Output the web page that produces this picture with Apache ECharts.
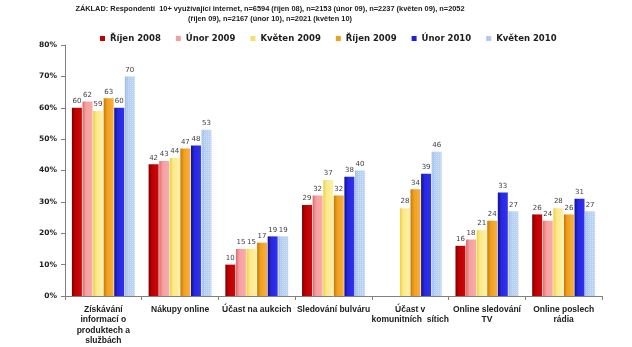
<!DOCTYPE html>
<html>
<head>
<meta charset="utf-8">
<script src="https://cdn.jsdelivr.net/npm/echarts@6/dist/echarts.min.js"></script>
<style>
  html, body { margin: 0; padding: 0; background: #fff; }
  #chart { width: 632px; height: 347px; }
</style>
</head>
<body>
<div id="chart"></div>
<script>
// Survey activity categories
const categories = [
  'Získávání\ninformací o\nproduktech a\nslužbách',
  'Nákupy online',
  'Účast na aukcich',
  'Sledování bulváru',
  'Účast v\nkomunitních  sítich',
  'Online sledování\nTV',
  'Online poslech\nrádia'
];

// Wave names
const waves = ['Říjen 2008', 'Únor 2009', 'Květen 2009', 'Říjen 2009', 'Únor 2010', 'Květen 2010'];

// Share of respondents per wave (%), '-' where not surveyed
const rijen2008  = [60, 42, 10, 29, '-', 16, 26];
const unor2009   = [62, 43, 15, 32, '-', 18, 24];
const kveten2009 = [59, 44, 15, 37, 28, 21, 28];
const rijen2009  = [63, 47, 17, 32, 34, 24, 26];
const unor2010   = [60, 48, 19, 38, 39, 33, 31];
const kveten2010 = [70, 53, 19, 40, 46, 27, 27];

const seriesValues = [rijen2008, unor2009, kveten2009, rijen2009, unor2010, kveten2010];

const yTicks = [0, 10, 20, 30, 40, 50, 60, 70, 80];

const titleText = 'ZÁKLAD: Respondenti  10+ využívající internet, n=6594 (říjen 08), n=2153 (únor 09), n=2237 (květen 09), n=2052\n(říjen 09), n=2167 (únor 10), n=2021 (květen 10)';

// Horizontal shading for each wave: darker left edge, lighter body
const palette = [
  ['#7a0000', '#c00000', '#c80a0a'],
  ['#e06a6a', '#f6a0a0', '#f8aaaa'],
  ['#f0d040', '#fbe98a', '#fff0a8'],
  ['#c87800', '#f0a020', '#f6b040'],
  ['#10108a', '#2828e0', '#3030f0'],
  ['#9cbce6', '#b4cef2', '#bcd4f4']
];
const legendColors = ['#c00000', '#f4a0a0', '#f8e070', '#f0a020', '#2020e0', '#a8c4ec'];

function shade(c) {
  return new echarts.graphic.LinearGradient(0, 0, 1, 0, [
    { offset: 0, color: c[0] },
    { offset: 0.35, color: c[1] },
    { offset: 1, color: c[2] }
  ]);
}

const series = waves.map((name, i) => {
  const itemStyle = { color: shade(palette[i]) };
  if (i === 5) {
    // fine dotted texture on the last wave
    itemStyle.decal = {
      symbol: 'rect',
      symbolSize: 1,
      dashArrayX: [1, 1],
      dashArrayY: [1, 1],
      color: 'rgba(255,255,255,0.35)'
    };
  }
  return {
    name: name,
    type: 'bar',
    data: seriesValues[i],
    barGap: '6%',
    barCategoryGap: '18%',
    itemStyle: itemStyle,
    label: {
      show: true,
      position: 'top',
      distance: 3,
      fontFamily: 'DejaVu Sans',
      fontSize: 7,
      color: '#404040'
    }
  };
});

const chart = echarts.init(document.getElementById('chart'), null, { renderer: 'canvas' });
chart.setOption({
  animation: false,
  backgroundColor: '#ffffff',
  color: legendColors,
  title: {
    text: titleText,
    left: 270,
    textAlign: 'center',
    top: 4,
    padding: 0,
    textStyle: {
      fontFamily: 'Liberation Sans',
      fontSize: 7.4,
      fontWeight: 'bold',
      color: '#202020',
      lineHeight: 10
    }
  },
  legend: {
    data: waves.map((w, i) => ({ name: w, itemStyle: { color: legendColors[i], decal: null } })),
    left: 100,
    top: 34,
    padding: 0,
    icon: 'rect',
    itemWidth: 5,
    itemHeight: 5,
    itemGap: 15,
    textStyle: {
      fontFamily: 'DejaVu Sans',
      fontSize: 8.5,
      fontWeight: 'bold',
      color: '#202020'
    }
  },
  grid: { left: 65, right: 30, top: 45, bottom: 51 },
  xAxis: {
    type: 'category',
    data: categories,
    axisLine: { lineStyle: { color: '#808080' } },
    axisTick: { show: true, length: 4, lineStyle: { color: '#808080' } },
    axisLabel: {
      interval: 0,
      margin: 8,
      fontFamily: 'Liberation Sans',
      fontSize: 8.5,
      fontWeight: 'bold',
      color: '#202020',
      lineHeight: 10.5
    }
  },
  yAxis: {
    type: 'value',
    min: yTicks[0],
    max: yTicks[yTicks.length - 1],
    interval: 10,
    axisLine: { show: true, lineStyle: { color: '#808080' } },
    axisTick: { show: true, length: 4, lineStyle: { color: '#808080' } },
    splitLine: { show: false },
    axisLabel: {
      margin: 8,
      fontFamily: 'DejaVu Sans',
      fontSize: 7.5,
      fontWeight: 'bold',
      color: '#202020',
      formatter: v => v + '%'
    }
  },
  series: series
});
</script>
</body>
</html>
